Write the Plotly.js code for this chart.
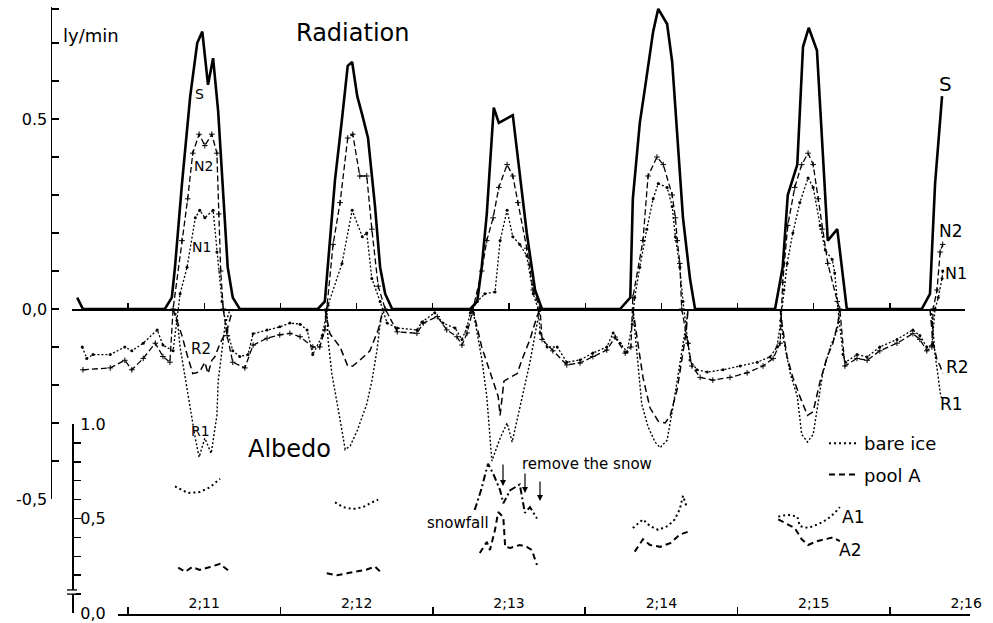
<!DOCTYPE html>
<html><head><meta charset="utf-8">
<script src="https://cdn.plot.ly/plotly-3.0.1.min.js"></script>
<style>html,body{margin:0;padding:0;background:#fff}#chart{width:993px;height:623px}</style>
</head><body><div id="chart"></div>
<script>
// time axis: hours after 2;11 00h
const dayMidnights = [0, 24, 48, 72, 96, 120];
const halfDayTicks = [0, 12, 24, 36, 48, 60, 72, 84, 96, 108, 120];
const dayNoons = [12, 36, 60, 84, 108, 132];
const dayLabels = ['2;11', '2;12', '2;13', '2;14', '2;15', '2;16'];

const radTicks = [-0.5,-0.4,-0.3,-0.2,-0.1,0,0.1,0.2,0.3,0.4,0.5,0.6,0.7,0.79];
const radTickText = ['-0,5','','','','','0,0','','','','','0.5','','',''];
const albTicks = [0,0.1,0.2,0.3,0.4,0.5,0.6,0.7,0.8,0.9,1.0];
const albTickText = ['0,0','','','','','0,5','','','','','1.0'];

// S : global radiation (ly/min)
const sT = [-8.0,-7.1,5.8,6.9,7.4,8.5,9.8,10.9,11.7,12.6,13.4,14.2,15.7,16.5,17.6,
  29.9,31.0,32.6,33.7,34.6,35.3,36.1,36.9,37.8,38.9,39.7,40.5,41.6,
  53.9,55.0,55.7,56.5,57.6,58.4,60.6,61.7,62.8,64.1,65.2,
  77.5,79.1,79.5,80.6,81.4,82.7,83.5,84.9,85.7,86.5,87.4,88.5,89.3,
  101.9,103.1,103.9,105.4,106.3,107.2,108.5,109.3,110.2,111.7,113.2,
  125.0,126.3,127.1,128.2];
const sV = [0.03,0,0,0.03,0.11,0.33,0.56,0.70,0.73,0.59,0.66,0.52,0.11,0.03,0,
  0,0.02,0.34,0.50,0.64,0.65,0.56,0.51,0.45,0.27,0.11,0.04,0,
  0,0.02,0.11,0.25,0.53,0.49,0.51,0.36,0.20,0.05,0,
  0,0.03,0.29,0.49,0.58,0.73,0.79,0.75,0.65,0.46,0.24,0.08,0,
  0,0.11,0.30,0.38,0.69,0.74,0.68,0.44,0.18,0.21,0,
  0,0.04,0.33,0.56];

// N1 : net radiation, bare ice
const n1T = [-7.2,-6.5,-5.5,-2.8,-0.5,0.6,2.4,4.6,5.5,7.1,
  7.7,8.2,9.3,10.6,11.3,12.1,13.4,14.0,14.8,
  15.6,16.5,17.6,18.9,19.7,21.9,23.9,25.5,27.1,28.2,29.1,30.6,31.2,
  31.5,33.7,35.3,36.9,37.6,38.4,39.7,
  40.8,42.4,45.5,46.3,48.3,49.6,51.5,52.6,53.4,53.9,
  55.0,56.2,57.8,58.6,59.7,60.6,61.7,62.8,63.8,64.6,
  64.9,66.0,67.6,69.1,71.2,73.2,75.4,76.4,77.5,78.6,79.4,
  79.8,80.6,81.7,82.7,83.5,84.9,85.7,86.2,86.9,87.4,
  88.2,88.5,89.6,91.2,93.7,96.4,99.1,101.1,102.2,102.8,
  103.3,103.8,104.7,105.8,107.1,107.9,109.0,109.8,110.9,111.3,111.8,
  112.6,113.0,114.8,116.4,118.4,121.1,123.6,124.7,125.8,126.6,
  127.1,127.6,128.2,128.3];
const n1V = [-0.10,-0.13,-0.12,-0.12,-0.10,-0.11,-0.09,-0.055,-0.095,-0.11,
  -0.03,0.04,0.11,0.24,0.26,0.24,0.26,0.15,0.02,
  -0.055,-0.11,-0.125,-0.12,-0.065,-0.055,-0.047,-0.037,-0.04,-0.055,-0.12,-0.07,-0.02,
  0.01,0.12,0.26,0.19,0.20,0.08,0.02,
  -0.037,-0.05,-0.055,-0.034,-0.01,-0.037,-0.05,-0.08,-0.047,-0.01,
  0.02,0.04,0.045,0.18,0.26,0.19,0.17,0.14,0.04,0,
  -0.063,-0.10,-0.10,-0.14,-0.134,-0.116,-0.10,-0.063,-0.09,-0.113,-0.04,
  0.03,0.11,0.21,0.29,0.33,0.32,0.27,0.19,0.11,0.02,
  -0.09,-0.134,-0.16,-0.166,-0.16,-0.15,-0.14,-0.126,-0.10,-0.03,
  0.05,0.12,0.20,0.28,0.345,0.32,0.22,0.155,0.13,0.095,0,
  -0.12,-0.14,-0.12,-0.126,-0.10,-0.08,-0.055,-0.07,-0.10,-0.095,
  0,0.03,0.08,0.10];

// N2 : net radiation, pool A
const n2T = [-7.1,-2.8,-0.5,0.6,2.4,4.3,5.5,6.6,
  7.1,8.5,9.4,10.2,11.2,12.1,13.2,14.0,14.3,14.6,15.0,
  15.6,16.5,18.4,19.7,21.9,23.9,25.5,27.1,29.1,30.2,31.0,
  31.3,32.3,33.4,34.6,35.4,36.5,37.6,38.4,39.4,40.5,
  42.4,45.5,46.5,48.7,50.2,51.8,52.6,53.4,54.2,
  55.7,56.5,57.5,58.4,59.7,60.6,61.4,62.8,63.8,64.9,
  65.2,66.9,69.1,71.2,73.2,75.4,76.7,78.3,79.2,
  79.5,81.1,81.9,83.3,84.3,85.7,86.2,86.5,86.9,87.2,
  88.2,88.8,90.1,92.1,94.8,97.5,100.0,101.6,102.7,
  103.1,103.9,105.0,106.1,107.1,107.9,108.7,109.3,110.2,111.7,112.1,
  112.9,114.8,116.4,118.4,121.1,123.6,124.7,125.8,126.6,
  126.8,127.4,127.9,128.3];
const n2V = [-0.16,-0.155,-0.135,-0.16,-0.13,-0.09,-0.125,-0.14,
  0,0.18,0.29,0.41,0.46,0.43,0.46,0.41,0.25,0.10,0,
  -0.07,-0.14,-0.155,-0.095,-0.077,-0.068,-0.064,-0.073,-0.10,-0.10,-0.055,
  0,0.17,0.28,0.45,0.46,0.35,0.35,0.21,0.06,0,
  -0.06,-0.064,-0.037,-0.02,-0.055,-0.073,-0.095,-0.063,-0.01,
  0.10,0.18,0.24,0.32,0.38,0.35,0.28,0.16,0.05,0,
  -0.08,-0.11,-0.147,-0.142,-0.125,-0.108,-0.074,-0.116,-0.10,
  0.03,0.18,0.35,0.40,0.38,0.30,0.24,0.18,0.12,0,
  -0.09,-0.15,-0.18,-0.187,-0.18,-0.168,-0.15,-0.13,-0.09,
  0.07,0.22,0.32,0.38,0.41,0.38,0.29,0.21,0.12,0.02,0,
  -0.15,-0.13,-0.135,-0.11,-0.09,-0.065,-0.08,-0.11,-0.10,
  0,0.05,0.15,0.17];

// R1 : reflected radiation, bare ice
const r1T = [7.4,7.9,8.2,9.0,9.8,10.6,11.2,12.1,13.1,13.4,14.0,14.2,14.8,15.3,16.1,null,
  31.3,31.5,32.1,32.9,33.7,34.2,35.0,36.1,36.9,37.6,38.4,39.2,39.7,40.2,null,
  54.3,55.7,56.5,57.3,58.6,59.7,60.5,61.3,62.2,63.3,64.4,64.9,null,
  79.5,80.2,80.9,81.9,83.0,83.8,84.9,85.8,86.6,87.4,87.9,88.2,null,
  102.7,103.1,104.3,105.4,106.1,107.0,107.9,108.7,109.4,110.6,111.7,112.1,null,
  126.5,127.1,127.6,127.9,128.2];
const r1V = [0,-0.05,-0.10,-0.18,-0.27,-0.34,-0.39,-0.34,-0.38,-0.35,-0.28,-0.19,-0.10,-0.04,0,null,
  0,-0.08,-0.17,-0.24,-0.32,-0.37,-0.36,-0.32,-0.28,-0.25,-0.19,-0.11,-0.04,0,null,
  0,-0.13,-0.23,-0.40,-0.34,-0.30,-0.35,-0.29,-0.22,-0.14,-0.04,0,null,
  0,-0.12,-0.25,-0.31,-0.35,-0.365,-0.345,-0.26,-0.18,-0.10,-0.04,0,null,
  0,-0.07,-0.17,-0.23,-0.33,-0.35,-0.33,-0.25,-0.17,-0.10,-0.055,0,null,
  0,-0.12,-0.18,-0.22,-0.24];

// R2 : reflected radiation, pool A
const r2T = [7.1,8.5,9.3,10.2,11.3,12.1,12.6,13.2,13.7,14.5,15.6,16.5,null,
  31.0,31.8,33.4,34.6,35.4,36.5,38.1,39.4,40.2,null,
  54.3,55.7,57.3,58.3,58.6,59.2,60.2,61.3,62.0,63.3,64.4,64.9,null,
  79.5,80.2,81.1,82.2,83.5,84.6,85.4,86.5,87.2,87.9,88.2,null,
  102.7,103.0,103.8,104.7,105.8,107.0,107.9,109.0,110.1,111.0,111.8,112.1,null,
  126.3,126.8,127.4,127.9,128.3];
const r2V = [0,-0.07,-0.12,-0.17,-0.165,-0.14,-0.17,-0.135,-0.125,-0.09,-0.055,0,null,
  0,-0.065,-0.10,-0.15,-0.15,-0.135,-0.11,-0.055,0,null,
  0,-0.10,-0.18,-0.23,-0.28,-0.19,-0.18,-0.17,-0.135,-0.08,-0.02,0,null,
  0,-0.08,-0.18,-0.26,-0.295,-0.30,-0.28,-0.21,-0.14,-0.06,0,null,
  0,-0.04,-0.126,-0.18,-0.23,-0.28,-0.27,-0.19,-0.126,-0.09,-0.037,0,null,
  0,-0.09,-0.134,-0.15,-0.17];

// A1 : albedo, bare ice
const a1T = [7.4,8.5,9.4,11.3,12.9,14.5,null,
  32.6,33.9,35.4,37.0,38.4,39.4,null,
  79.5,81.1,82.2,83.5,85.0,86.1,86.9,87.4,88.0,null,
  102.4,103.9,105.4,105.8,107.1,108.7,110.1,111.3,112.1];
const a1V = [0.67,0.65,0.635,0.64,0.665,0.71,null,
  0.585,0.56,0.55,0.56,0.585,0.60,null,
  0.45,0.495,0.46,0.44,0.46,0.495,0.55,0.62,0.56,null,
  0.51,0.52,0.51,0.46,0.45,0.47,0.495,0.53,0.56];
// A1 on 2;13 (snowfall, snow removed)
const a1SnowT = [54.6,55.6,56.7,57.6,58.6,59.1,60.2,61.7,62.5,63.3,64.4];
const a1SnowV = [0.545,0.65,0.79,0.73,0.65,0.58,0.65,0.68,0.53,0.56,0.50];

// A2 : albedo, pool A
const a2T = [7.9,9.0,10.1,11.3,12.9,14.5,16.1,null,
  31.3,32.9,34.5,36.1,37.6,38.9,39.7,null,
  55.4,56.5,57.0,57.8,58.3,59.1,59.4,60.2,61.7,62.8,63.6,64.4,null,
  79.8,81.1,82.2,83.8,85.4,86.9,88.2,null,
  102.4,103.8,105.0,106.1,107.1,108.5,109.8,111.0,112.1];
const a2V = [0.24,0.218,0.243,0.228,0.243,0.26,0.217,null,
  0.21,0.20,0.21,0.22,0.23,0.245,0.22,null,
  0.317,0.376,0.333,0.44,0.534,0.508,0.35,0.344,0.36,0.35,0.333,0.254,null,
  0.325,0.39,0.36,0.35,0.37,0.415,0.43,null,
  0.495,0.47,0.45,0.39,0.36,0.38,0.39,0.40,0.38];

// ---------- layout geometry ----------
const FONT = 'DejaVu Sans, Verdana, sans-serif';
const W = 993, H = 623, L = 52, R = 18, T = 7, B = 9;
const PW = W - L - R, PH = H - T - B;
const X0 = 128, K = 6.35;            // pixel of t=0 and pixels per hour
const tx = px => (px - X0) / K;
const fx = px => (px - L) / PW;
const fy = py => (H - B - py) / PH;
const RAD0 = 309, RADK = 380;       // radiation zero pixel, px per ly/min

const blk = '#000';
const traces = [
  {x: sT, y: sV, mode: 'lines', line: {color: blk, width: 2.6}, showlegend: false, hoverinfo: 'skip'},
  {x: n2T, y: n2V, mode: 'lines+markers', line: {color: blk, width: 1.3, dash: '6px,3px'},
   marker: {symbol: 'cross-thin', size: 4, line: {width: 1, color: blk}}, showlegend: false, hoverinfo: 'skip'},
  {x: n1T, y: n1V, mode: 'lines+markers', line: {color: blk, width: 1.3, dash: '2px,2px'},
   marker: {size: 3, color: blk}, showlegend: false, hoverinfo: 'skip'},
  {x: r2T, y: r2V, mode: 'lines', line: {color: blk, width: 1.5, dash: '7px,4px'}, connectgaps: false, showlegend: false, hoverinfo: 'skip'},
  {x: r1T, y: r1V, mode: 'lines', line: {color: blk, width: 1.4, dash: '2px,2px'}, connectgaps: false, showlegend: false, hoverinfo: 'skip'},
  {x: a1T, y: a1V, yaxis: 'y2', mode: 'lines', name: 'bare ice', legendgroup: 'g1',
   line: {color: blk, width: 2, dash: '2px,3px'}, connectgaps: false, hoverinfo: 'skip'},
  {x: a2T, y: a2V, yaxis: 'y2', mode: 'lines', name: 'pool A', legendgroup: 'g2',
   line: {color: blk, width: 2, dash: '6px,4px'}, connectgaps: false, hoverinfo: 'skip'},
  {x: a1SnowT, y: a1SnowV, yaxis: 'y2', mode: 'lines', showlegend: false,
   line: {color: blk, width: 2, dash: '7px,3px,2px,3px'}, hoverinfo: 'skip'},
  // carriers for the drawn axes
  {x: [null], y: [null], xaxis: 'x2', yaxis: 'y', showlegend: false, hoverinfo: 'skip'},
  {x: [null], y: [null], xaxis: 'x3', yaxis: 'y', showlegend: false, hoverinfo: 'skip'},
  {x: [null], y: [null], xaxis: 'x4', yaxis: 'y', showlegend: false, hoverinfo: 'skip'}
];

function lab(text, px, py, size, yref) {
  const yv = yref === 'y2' ? (613 - py) / 189 : (RAD0 - py) / RADK;
  return {text: text, x: tx(px), y: yv, xref: 'x', yref: yref || 'y', showarrow: false,
          font: {size: size, family: FONT, color: blk}, xanchor: 'center', yanchor: 'middle'};
}
function arrow(px, pyTop, pyBot) {
  return {text: '', x: tx(px), y: (613 - pyBot) / 189, ax: tx(px), ay: (613 - pyTop) / 189,
          xref: 'x', yref: 'y2', axref: 'x', ayref: 'y2', showarrow: true,
          arrowhead: 2, arrowsize: 1, arrowwidth: 1.2, arrowcolor: blk};
}

const annotations = [
  lab('ly/min', 91, 35, 18),
  lab('Radiation', 352, 33, 24),
  lab('Albedo', 289, 449, 24, 'y2'),
  lab('S', 199, 94, 14),
  lab('N2', 203, 166, 14),
  lab('N1', 201, 247, 14),
  lab('R2', 201, 349, 15),
  lab('R1', 200, 431, 14),
  lab('S', 945, 84, 20),
  lab('N2', 951, 231, 17),
  lab('N1', 956, 273, 16),
  lab('R2', 957, 367, 17),
  lab('R1', 951, 404, 17),
  lab('A1', 853, 517, 17, 'y2'),
  lab('A2', 850, 550, 17, 'y2'),
  lab('remove the snow', 587, 464, 15, 'y2'),
  lab('snowfall', 458, 523, 15, 'y2'),
  arrow(503, 463, 486),
  arrow(525, 472, 493),
  arrow(540, 480, 501)
];

const shapes = [
  // axis break on albedo scale
  {type: 'rect', xref: 'paper', yref: 'y2', x0: fx(68), x1: fx(76), y0: 0.10, y1: 0.122,
   fillcolor: '#fff', line: {width: 0}, layer: 'above'},
  {type: 'line', xref: 'paper', yref: 'y2', x0: fx(67), x1: fx(77), y0: 0.10, y1: 0.10, line: {color: blk, width: 1.3}, layer: 'above'},
  {type: 'line', xref: 'paper', yref: 'y2', x0: fx(67), x1: fx(77), y0: 0.122, y1: 0.122, line: {color: blk, width: 1.3}, layer: 'above'}
];

const axBase = {showgrid: false, zeroline: false, color: blk, linecolor: blk, tickcolor: blk, fixedrange: true};
const BOT_END = 970;

const layout = {
  width: W, height: H, margin: {l: L, r: R, t: T, b: B, pad: 0},
  paper_bgcolor: '#fff', plot_bgcolor: 'rgba(0,0,0,0)',
  font: {family: FONT, color: blk, size: 14},
  showlegend: true,
  legend: {x: fx(824), y: fy(425), xanchor: 'left', yanchor: 'top', bgcolor: 'rgba(0,0,0,0)',
           font: {size: 18, family: FONT, color: blk}, traceorder: 'grouped', tracegroupgap: 5,
           borderwidth: 0, itemwidth: 30},
  xaxis: Object.assign({}, axBase, {domain: [0, 1], range: [tx(L), tx(W - R)], visible: false}),
  xaxis2: Object.assign({}, axBase, {domain: [fx(118), fx(BOT_END)], range: [tx(118), tx(BOT_END)],
           anchor: 'free', position: 0, showline: true, linewidth: 1.5,
           ticks: 'inside', ticklen: 7, tickwidth: 1.5, tickvals: dayMidnights, showticklabels: false}),
  xaxis3: Object.assign({}, axBase, {overlaying: 'x2', range: [tx(118), tx(BOT_END)], anchor: 'free', position: 0,
           showline: false, ticks: '', tickvals: dayNoons, ticktext: dayLabels,
           ticklabelposition: 'inside', ticklabeloverflow: 'allow', tickfont: {size: 14, family: FONT, color: blk}}),
  xaxis4: Object.assign({}, axBase, {domain: [fx(72), fx(965)], range: [tx(72), tx(965)],
           anchor: 'free', position: fy(RAD0), showline: true, linewidth: 1.5,
           ticks: 'inside', ticklen: 6, tickwidth: 1.2, tickvals: halfDayTicks, showticklabels: false}),
  yaxis: Object.assign({}, axBase, {domain: [fy(499), 1], range: [-0.5, (RAD0 - T) / RADK], anchor: 'x', side: 'left',
           showline: true, linewidth: 1.5, ticks: 'inside', ticklen: 7, tickwidth: 1.5,
           tickvals: radTicks, ticktext: radTickText, tickfont: {size: 16, family: FONT, color: blk}}),
  yaxis2: Object.assign({}, axBase, {domain: [fy(613), fy(424)], range: [0, 1], anchor: 'free', position: fx(72), side: 'left',
           showline: true, linewidth: 1.5, ticks: 'inside', ticklen: 7, tickwidth: 1.5,
           tickvals: albTicks, ticktext: albTickText, ticklabelposition: 'inside', ticklabeloverflow: 'allow',
           tickfont: {size: 16, family: FONT, color: blk}}),
  shapes: shapes,
  annotations: annotations
};

Plotly.newPlot('chart', traces, layout, {staticPlot: true, displayModeBar: false});
</script></body></html>
